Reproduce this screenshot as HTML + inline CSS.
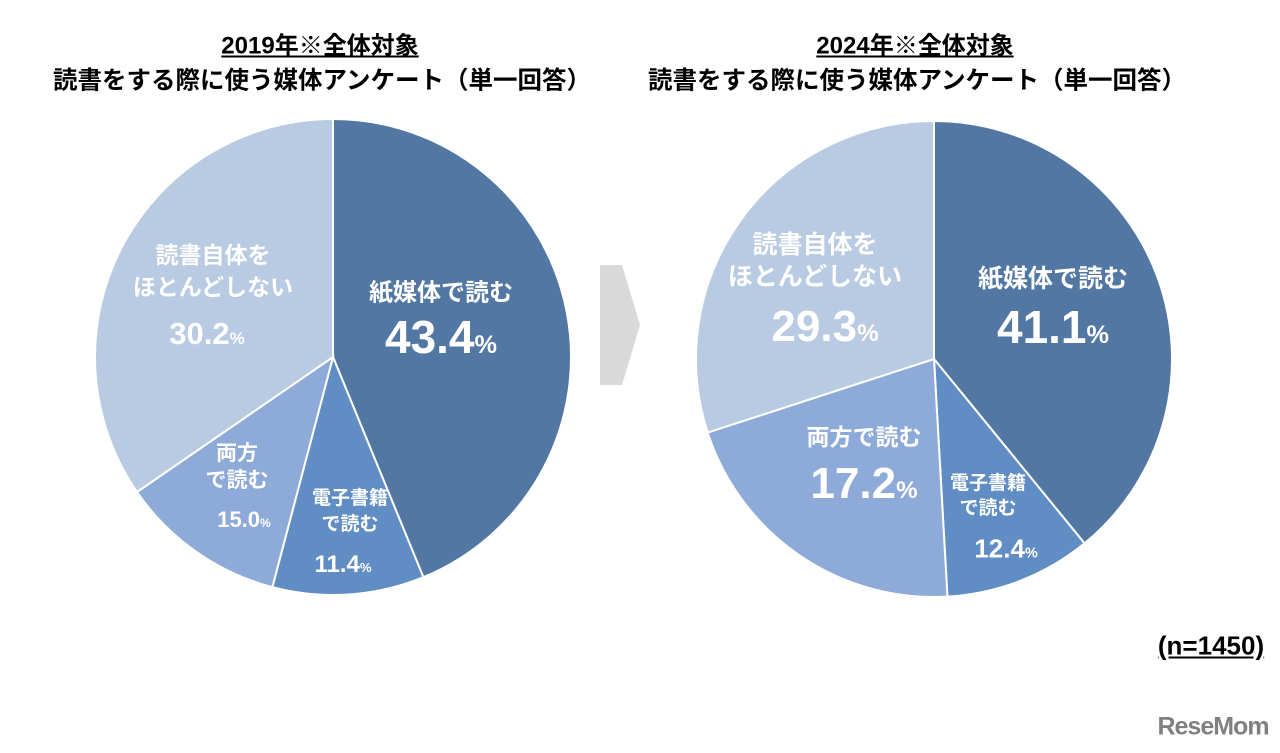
<!DOCTYPE html>
<html><head><meta charset="utf-8">
<style>
body{margin:0;width:1280px;height:753px;background:#fff;position:relative;overflow:hidden;font-family:"Liberation Sans","Noto Sans CJK JP",sans-serif;}
.t{position:absolute;transform:translate(-50%,-50%);white-space:nowrap;font-weight:bold;}
.w{color:#fff;}
.p{font-size:55%;}
svg{position:absolute;left:0;top:0;}
</style></head><body>
<svg id="chart" width="1280" height="753">
<polygon points="600,265 622,265 640,325 622,385 600,385" fill="#d9d9d9"/>
</svg>
<div class="t" style="left:320px;top:43px;font-size:24px;text-decoration:underline">2019年※全体対象</div>
<div class="t" style="left:322px;top:79px;font-size:24.5px">読書をする際に使う媒体アンケート（単一回答）</div>
<div class="t" style="left:915px;top:43px;font-size:24px;text-decoration:underline">2024年※全体対象</div>
<div class="t" style="left:917px;top:79px;font-size:24.5px">読書をする際に使う媒体アンケート（単一回答）</div>

<div class="t w" style="left:441px;top:290px;font-size:24px">紙媒体で読む</div>
<div class="t w" style="left:441px;top:337px;font-size:46px">43.4<span class="p">%</span></div>
<div class="t w" style="left:213px;top:271px;font-size:23px;text-align:center;line-height:32px">読書自体を<br>ほとんどしない</div>
<div class="t w" style="left:207px;top:334px;font-size:31px">30.2<span class="p">%</span></div>
<div class="t w" style="left:237px;top:467px;font-size:21px;text-align:center;line-height:27px">両方<br>で読む</div>
<div class="t w" style="left:244px;top:520px;font-size:22px">15.0<span class="p">%</span></div>
<div class="t w" style="left:350px;top:512px;font-size:19px;text-align:center;line-height:26px">電子書籍<br>で読む</div>
<div class="t w" style="left:343px;top:565px;font-size:24px">11.4<span class="p">%</span></div>

<div class="t w" style="left:1053px;top:277px;font-size:25px">紙媒体で読む</div>
<div class="t w" style="left:1053px;top:327px;font-size:46px">41.1<span class="p">%</span></div>
<div class="t w" style="left:815px;top:261px;font-size:25px;text-align:center;line-height:32px">読書自体を<br>ほとんどしない</div>
<div class="t w" style="left:825px;top:327px;font-size:44px">29.3<span class="p">%</span></div>
<div class="t w" style="left:864px;top:435px;font-size:23px">両方で読む</div>
<div class="t w" style="left:864px;top:484px;font-size:44px">17.2<span class="p">%</span></div>
<div class="t w" style="left:988px;top:496px;font-size:19px;text-align:center;line-height:25px">電子書籍<br>で読む</div>
<div class="t w" style="left:1006px;top:549px;font-size:26px">12.4<span class="p">%</span></div>

<div class="t" style="left:1211px;top:646px;font-size:26px;text-decoration:underline">(n=1450)</div>
<div class="t" style="left:1213px;top:727px;font-size:25px;color:#808080;letter-spacing:-1px">ReseMom</div>

<script>
const categories=["紙媒体で読む","電子書籍で読む","両方で読む","読書自体をほとんどしない"];
// slice shares as drawn in the picture (graphic is not strictly to scale)
const values2019=[43.8,10.3,11.3,34.6];
const values2024=[39.1,10.0,20.9,30.0];
const colors=["#5277a3","#5f8dc4","#8eaad8","#b9cae3"];
const svg=document.getElementById('chart');
function drawPie(vals,cx,cy,r,tag){
  const total=vals.reduce((a,b)=>a+b,0);
  let a0=-Math.PI/2;
  vals.forEach((v,i)=>{
    const a1=a0+v/total*2*Math.PI;
    const x0=cx+r*Math.cos(a0),y0=cy+r*Math.sin(a0);
    const x1=cx+r*Math.cos(a1),y1=cy+r*Math.sin(a1);
    const large=(a1-a0)>Math.PI?1:0;
    const p=document.createElementNS('http://www.w3.org/2000/svg','path');
    p.setAttribute('d',`M${cx},${cy}L${x0},${y0}A${r},${r} 0 ${large} 1 ${x1},${y1}Z`);
    p.setAttribute('fill',colors[i]);
    p.setAttribute('stroke','#fff');
    p.setAttribute('stroke-width','2');
    
    
    svg.appendChild(p);
    a0=a1;
  });
}
drawPie(values2019,333,357,238,'2019');
drawPie(values2024,934,359,238,'2024');
</script>
</body></html>
